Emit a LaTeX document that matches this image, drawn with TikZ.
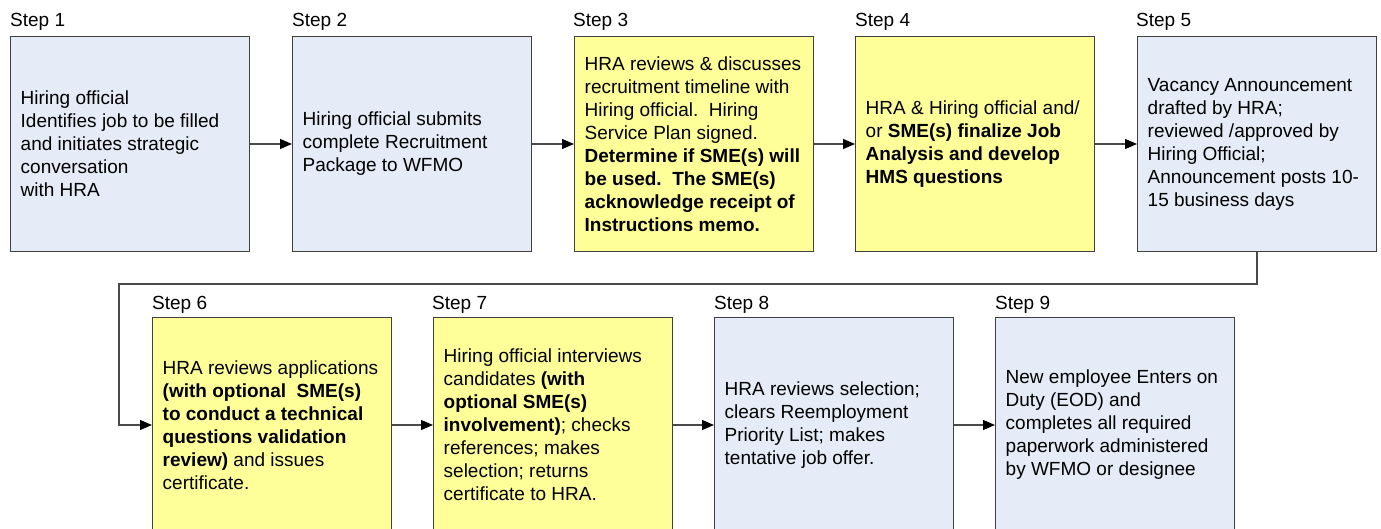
\documentclass[tikz,border=0pt]{standalone}
\usepackage{fontspec}
\setmainfont{Liberation Sans}
\usetikzlibrary{arrows.meta}
\definecolor{boxblue}{HTML}{E5EBF7}
\definecolor{boxyellow}{HTML}{FFFF99}
\definecolor{edgegray}{HTML}{404040}
\definecolor{linegray}{HTML}{4A4A4A}
\tikzset{
  stepbox/.style={draw=edgegray, line width=1pt, rectangle, minimum width=239pt, minimum height=215pt, inner sep=0pt, anchor=north west},
  bluebox/.style={stepbox, fill=boxblue},
  yellowbox/.style={stepbox, fill=boxyellow},
  boxtext/.style={anchor=west, align=left, inner sep=0pt, font=\fontsize{19}{23}\selectfont},
  steplabel/.style={anchor=base west, inner sep=0pt, font=\fontsize{19}{23}\selectfont},
  arr/.style={draw=linegray, line width=1.2pt, -{Triangle[length=12pt,width=10pt,fill=black,color=black]}},
}
\begin{document}
\begin{tikzpicture}[x=1pt,y=-1pt]
\useasboundingbox (0,0) rectangle (1381,529);
\clip (0,0) rectangle (1381,529);
\fill[white] (0,0) rectangle (1381,529);

% Row 1
\node[bluebox] (b1) at (10,36) {};
\node[bluebox] (b2) at (292,36) {};
\node[yellowbox] (b3) at (574,36) {};
\node[yellowbox] (b4) at (855,36) {};
\node[bluebox] (b5) at (1137,36) {};
% Row 2
\node[yellowbox] (b6) at (152,317) {};
\node[yellowbox] (b7) at (433,317) {};
\node[bluebox] (b8) at (714,317) {};
\node[bluebox] (b9) at (995,317) {};

% Step labels
\node[steplabel] (s1) at (10,27) {Step 1};
\node[steplabel] (s2) at (292,27) {Step 2};
\node[steplabel] (s3) at (573,27) {Step 3};
\node[steplabel] (s4) at (855,27) {Step 4};
\node[steplabel] (s5) at (1136,27) {Step 5};
\node[steplabel] (s6) at (152,309) {Step 6};
\node[steplabel] (s7) at (432,309) {Step 7};
\node[steplabel] (s8) at (714,309) {Step 8};
\node[steplabel] (s9) at (995,309) {Step 9};

% Texts
\node[boxtext] (t1) at ([xshift=10.5pt]b1.west) {Hiring official\\Identifies job to be filled\\and initiates strategic\\conversation\\with HRA};
\node[boxtext] (t2) at ([xshift=10.5pt]b2.west) {Hiring official submits\\complete Recruitment\\Package to WFMO};
\node[boxtext] (t3) at ([xshift=10.5pt]b3.west) {HRA reviews \& discusses\\recruitment timeline with\\Hiring official.\ \ Hiring\\Service Plan signed.\\\textbf{Determine if SME(s) will}\\\textbf{be used.\ \ The SME(s)}\\\textbf{acknowledge receipt of}\\\textbf{Instructions memo.}};
\node[boxtext] (t4) at ([xshift=10.5pt]b4.west) {HRA \& Hiring official and/\\or \textbf{SME(s) finalize Job}\\\textbf{Analysis and develop}\\\textbf{HMS questions}};
\node[boxtext] (t5) at ([xshift=10.5pt]b5.west) {Vacancy Announcement\\drafted by HRA;\\reviewed /approved by\\Hiring Official;\\Announcement posts 10-\\15 business days};
\node[boxtext] (t6) at ([xshift=10.5pt]b6.west) {HRA reviews applications\\\textbf{(with optional\ \ SME(s)}\\\textbf{to conduct a technical}\\\textbf{questions validation}\\\textbf{review)} and issues\\certificate.};
\node[boxtext] (t7) at ([xshift=10.5pt]b7.west) {Hiring official interviews\\candidates \textbf{(with}\\\textbf{optional SME(s)}\\\textbf{involvement)}; checks\\references; makes\\selection; returns\\certificate to HRA.};
\node[boxtext] (t8) at ([xshift=10.5pt]b8.west) {HRA reviews selection;\\clears Reemployment\\Priority List; makes\\tentative job offer.};
\node[boxtext] (t9) at ([xshift=10.5pt]b9.west) {New employee Enters on\\Duty (EOD) and\\completes all required\\paperwork administered\\by WFMO or designee};

% Connectors
\draw[arr] (b1.east) -- (b2.west);
\draw[arr] (b2.east) -- (b3.west);
\draw[arr] (b3.east) -- (b4.west);
\draw[arr] (b4.east) -- (b5.west);
\coordinate (c1) at (119,284);
\draw[arr] (b5.south) |- (c1) |- (b6.west);
\draw[arr] (b6.east) -- (b7.west);
\draw[arr] (b7.east) -- (b8.west);
\draw[arr] (b8.east) -- (b9.west);
\end{tikzpicture}
\end{document}
